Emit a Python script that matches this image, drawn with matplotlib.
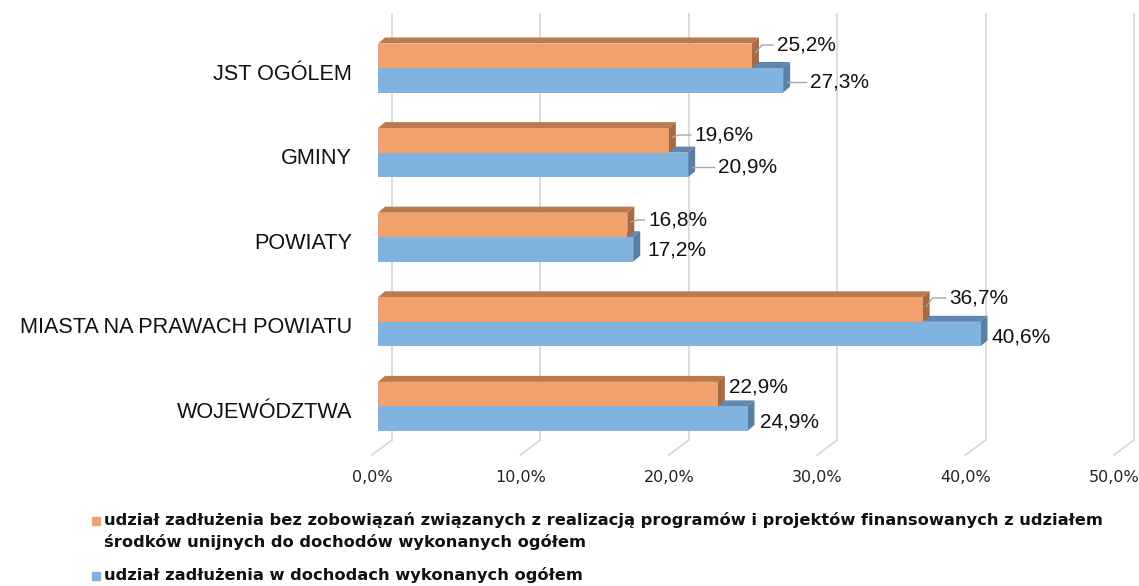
import matplotlib
matplotlib.use("Agg")
import matplotlib.pyplot as plt
from matplotlib.patches import Polygon, Rectangle

# data
categories = ["JST OGÓLEM", "GMINY", "POWIATY", "MIASTA NA PRAWACH POWIATU", "WOJEWÓDZTWA"]
bez_unii = [25.2, 19.6, 16.8, 36.7, 22.9]      # orange
ogolem = [27.3, 20.9, 17.2, 40.6, 24.9]        # blue
ticks = [0, 10, 20, 30, 40, 50]
legend_labels = [
    "udział zadłużenia bez zobowiązań związanych z realizacją programów i projektów finansowanych z udziałem\nśrodków unijnych do dochodów wykonanych ogółem",
    "udział zadłużenia w dochodach wykonanych ogółem",
]

# layout (pixel based)
W, H = 1139, 586
X0, SX = 378, 14.84      # px of 0% (front), px per 1%
Y0, SY = 68, 84.6        # px of first category boundary, px per category
def px_x(p): return p / SX
def px_y(p): return p / SY

orange, orange_top, orange_side = "#F2A06C", "#B97A50", "#A66A44"
blue, blue_top, blue_side = "#80B3E0", "#6088AE", "#5A7EA4"

fig = plt.figure(figsize=(W / 100, H / 100), dpi=100)
ax = fig.add_axes([0, 0, 1, 1])
ax.set_xlim(-X0 / SX, (W - X0) / SX)
ax.set_ylim((H - Y0) / SY, -Y0 / SY)
ax.axis("off")

grid_c = "#D9D9D9"
for t in ticks:
    xb = t + px_x(14)
    ax.plot([xb, xb], [px_y(14 - Y0), px_y(440 - Y0)], color=grid_c, lw=1.3, zorder=0)
    ax.plot([xb, xb - px_x(20)], [px_y(440 - Y0), px_y(455 - Y0)], color=grid_c, lw=1.3, zorder=0)
    ax.text(t - px_x(6), px_y(478 - Y0), f"{t:.1f}%".replace(".", ","), ha="center", va="center",
            fontsize=11.5, family="DejaVu Sans", color="#222222")

h = px_y(24.5)
dx, dy = px_x(7), px_y(6)

def bar3d(y_top, v, front, top, side, z):
    ax.barh(y_top + h / 2, v, height=h, left=0, color=front, edgecolor="none", zorder=z + 0.5)
    ax.add_patch(Polygon([(0, y_top), (v, y_top), (v + dx, y_top - dy), (dx, y_top - dy)],
                         closed=True, color=top, lw=0, zorder=z))
    ax.add_patch(Polygon([(v, y_top), (v + dx, y_top - dy), (v + dx, y_top + h - dy), (v, y_top + h)],
                         closed=True, color=side, lw=0, zorder=z))

# label positions in px: gap right of bar end, vertical offset from category boundary
off_o = [25, 26, 21, 27, 11]
off_b = [27, 30, 14, 10.5, 12.5]
oy_o = [-23, -17.6, -17.2, -23.8, -19.4]
oy_b = [14, 14.4, 12.8, 15.2, 15.6]
lead_c = "#A6A6A6"

for i, cat in enumerate(categories):
    bar3d(i + 0, ogolem[i], blue, blue_top, blue_side, 2)
    bar3d(i - h, bez_unii[i], orange, orange_top, orange_side, 3)
    ax.text(px_x(352 - X0), i + px_y(6), cat, ha="right", va="center", fontsize=15.6,
            family="Liberation Sans", color="#111111")
    # orange label
    v = bez_unii[i]
    yo = i + px_y(oy_o[i])
    xo = v + px_x(off_o[i])
    if off_o[i] > 18:
        ax.plot([v + dx * 0.5, v + dx + px_x(3), xo - px_x(4)],
                [i - h / 2 - dy / 2, yo, yo], color=lead_c, lw=1, zorder=4)
    ax.text(xo, yo, f"{v:.1f}%".replace(".", ","), ha="left", va="center", fontsize=15,
            family="Liberation Sans", color="#111111", zorder=5)
    # blue label
    v = ogolem[i]
    yb = i + px_y(oy_b[i])
    xb = v + px_x(off_b[i])
    if off_b[i] > 18:
        ax.plot([v + dx * 0.5, xb - px_x(4)], [yb, yb], color=lead_c, lw=1, zorder=4)
    ax.text(xb, yb, f"{v:.1f}%".replace(".", ","), ha="left", va="center", fontsize=15,
            family="Liberation Sans", color="#111111", zorder=5)

# legend
leg_y = [521, 576]
for c, lab, y in zip([orange, blue], legend_labels, leg_y):
    fig.add_artist(Rectangle((92 / W, 1 - (y + 4) / H), 8 / W, 8 / H, color=c, transform=fig.transFigure))
    fig.text(104 / W, 1 - (y - 9) / H, lab, ha="left", va="top", fontsize=11.7, fontweight="bold",
             family="DejaVu Sans", color="#111111", linespacing=1.45)

fig.savefig("out.png", dpi=100)
